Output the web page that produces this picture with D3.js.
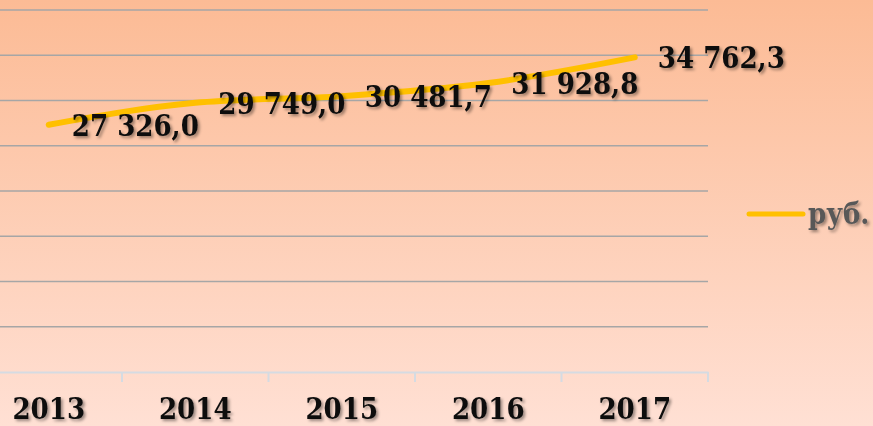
<!DOCTYPE html>
<meta charset="utf-8">
<style>
    body { margin: 0; }
    svg { display: block; }
    .grid line { stroke: #a6a6a6; stroke-width: 1.5; }
    .axis path, .axis line { stroke: #d5dbe2; stroke-width: 2; }
    .axis text, .labels text, .legend text {
        font-family: "DejaVu Serif Condensed", "DejaVu Serif", serif;
        font-stretch: condensed;
        font-weight: bold;
    }
</style>
<svg width="873" height="426"></svg>
<script src="https://d3js.org/d3.v7.min.js"></script>
<script>

    // data
    var years = ["2013", "2014", "2015", "2016", "2017"];
    var values = [27326.0, 29749.0, 30481.7, 31928.8, 34762.3];
    var labels = ["27 326,0", "29 749,0", "30 481,7", "31 928,8", "34 762,3"];
    var gridTicks = [0, 5000, 10000, 15000, 20000, 25000, 30000, 35000, 40000];
    var seriesName = "руб.";

    var svg = d3.select("svg"),
        width = +svg.attr("width"),
        height = +svg.attr("height");

    var defs = svg.append("defs");
    var grad = defs.append("linearGradient")
        .attr("id", "bg")
        .attr("x1", 0).attr("y1", 0).attr("x2", 0).attr("y2", 1);
    grad.append("stop").attr("offset", "0%").attr("stop-color", "#fcbb95");
    grad.append("stop").attr("offset", "100%").attr("stop-color", "#ffe0d4");

    var shadow = defs.append("filter")
        .attr("id", "shadow")
        .attr("x", "-10%").attr("y", "-20%")
        .attr("width", "130%").attr("height", "160%");
    shadow.append("feDropShadow")
        .attr("dx", 2).attr("dy", 2)
        .attr("stdDeviation", 1.5)
        .attr("flood-color", "#000")
        .attr("flood-opacity", 0.4);

    svg.append("rect")
        .attr("width", width).attr("height", height)
        .attr("fill", "url(#bg)");

    // scales: plot area starts a little left of the visible frame
    var x = d3.scaleBand()
        .domain(years)
        .range([-24.5, 708]);

    var y = d3.scaleLinear()
        .domain([0, 40000])
        .range([372, 10]);

    // gridlines
    svg.append("g")
        .attr("class", "grid")
        .selectAll("line")
        .data(gridTicks.slice(1))
        .join("line")
        .attr("x1", x.range()[0])
        .attr("x2", x.range()[1])
        .attr("y1", function(d) { return y(d); })
        .attr("y2", function(d) { return y(d); });

    // x axis
    var xAxis = svg.append("g")
        .attr("class", "axis")
        .attr("transform", "translate(0," + y(0) + ")")
        .call(d3.axisBottom(x).tickSize(0).tickSizeOuter(0));
    xAxis.selectAll(".tick text")
        .attr("font-size", 29)
        .attr("fill", "#111")
        .attr("dy", 0)
        .attr("y", 47)
        .attr("filter", "url(#shadow)");
    // category separators
    xAxis.selectAll(".sep")
        .data(years)
        .join("line")
        .attr("class", "sep")
        .attr("x1", function(d) { return x(d) + x.bandwidth(); })
        .attr("x2", function(d) { return x(d) + x.bandwidth(); })
        .attr("y1", 0)
        .attr("y2", 10);

    // line
    var line = d3.line()
        .x(function(d, i) { return x(years[i]) + x.bandwidth() / 2; })
        .y(function(d) { return y(d); })
        .curve(d3.curveMonotoneX);

    svg.append("path")
        .datum(values)
        .attr("fill", "none")
        .attr("stroke", "#ffc000")
        .attr("stroke-width", 6)
        .attr("stroke-linecap", "round")
        .attr("d", line);

    // data labels
    svg.append("g")
        .attr("class", "labels")
        .selectAll("text")
        .data(values)
        .join("text")
        .attr("x", function(d, i) { return x(years[i]) + x.bandwidth() / 2 + 23; })
        .attr("y", function(d) { return y(d) + 11; })
        .attr("font-size", 29)
        .attr("fill", "#111")
        .attr("filter", "url(#shadow)")
        .text(function(d, i) { return labels[i]; });

    // legend
    var legend = svg.append("g")
        .attr("class", "legend")
        .attr("transform", "translate(749,214)");
    legend.append("line")
        .attr("x1", 0).attr("x2", 54)
        .attr("stroke", "#ffc000")
        .attr("stroke-width", 5)
        .attr("stroke-linecap", "round");
    legend.append("text")
        .attr("x", 59)
        .attr("y", 10)
        .attr("font-size", 29)
        .attr("fill", "#595959")
        .attr("filter", "url(#shadow)")
        .text(seriesName);

</script>
